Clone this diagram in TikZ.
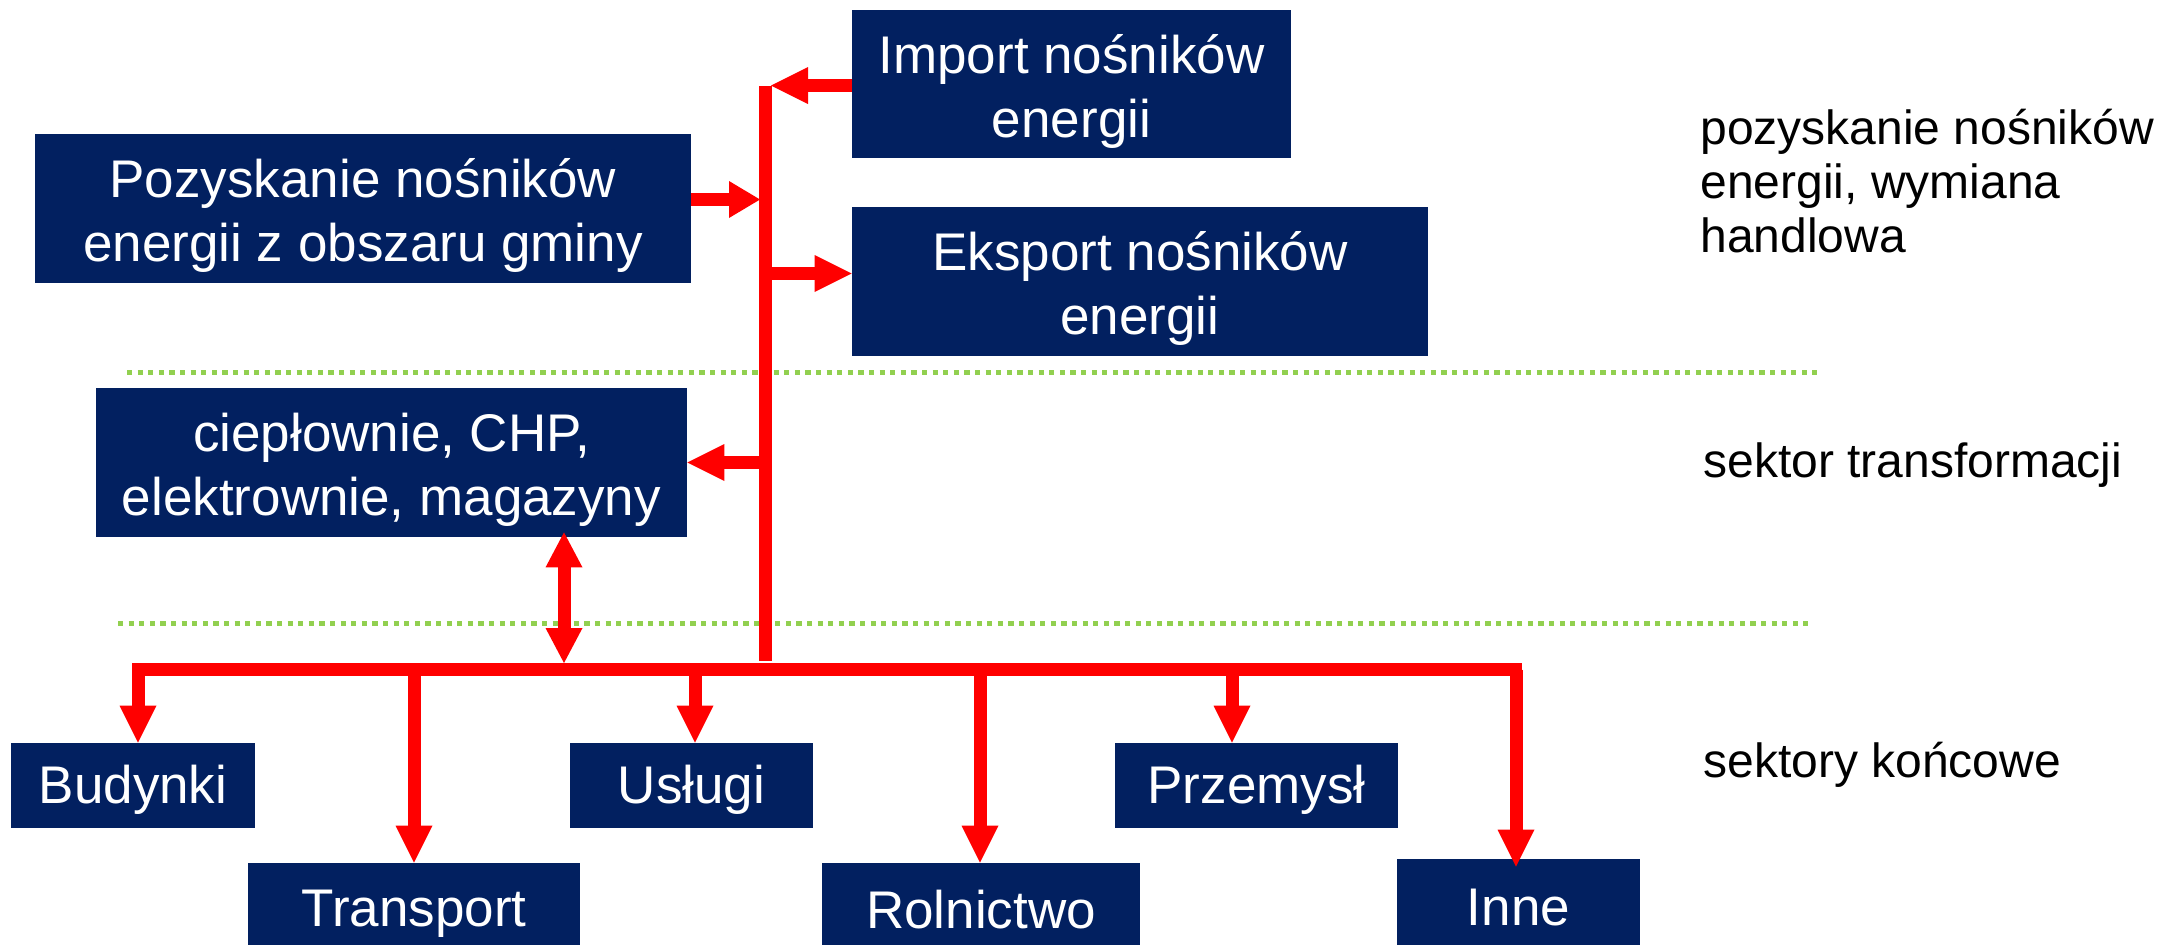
\documentclass[tikz,border=0pt]{standalone}
\usepackage{fontspec}
\setmainfont{Liberation Sans}
\usetikzlibrary{arrows.meta}
\definecolor{navy}{RGB}{2,32,96}
\definecolor{myred}{RGB}{255,0,0}
\definecolor{sepgreen}{RGB}{146,208,80}
\tikzset{
  box/.style={fill=navy, text=white, inner sep=0pt, align=center,
    font=\fontsize{26.5pt}{32pt}\selectfont},
  boxtxt/.style={text=white, inner sep=0pt, align=center,
    font=\fontsize{26.5pt}{32pt}\selectfont},
  lab/.style={text=black, inner sep=0pt, align=left,
    font=\fontsize{24pt}{27pt}\selectfont},
  redline/.style={draw=myred, line width=6.5pt, line cap=butt},
  arr/.style={redline, -{Triangle[length=18.5pt,width=18.5pt,line width=0pt]}},
  arrshort/.style={redline, -{Triangle[length=15.5pt,width=18.5pt,line width=0pt]}},
  dblarr/.style={redline, {Triangle[length=17.5pt,width=18.5pt,line width=0pt]}-{Triangle[length=17.5pt,width=18.5pt,line width=0pt]}},
  sepline/.style={draw=sepgreen, line width=2.5pt, dash pattern=on 2.6pt off 2.7pt},
}
\begin{document}
\begin{tikzpicture}[x=0.5pt,y=-0.5pt]
\useasboundingbox (0,0) rectangle (2171,944);
% separators
\draw[sepline] (127,372.5) -- (1817,372.5);
\draw[sepline] (118,623.5) -- (1808,623.5);
% boxes (two-line)
\node[box, minimum width=219.5pt, minimum height=74pt,
  label={[boxtxt,yshift=-3.5pt]center:Import nośników\\energii}] (imp) at (1071.5,84) {};
\node[box, minimum width=328pt, minimum height=74.5pt,
  label={[boxtxt,yshift=-3.5pt]center:Pozyskanie nośników\\energii z obszaru gminy}] (poz) at (363,208.5) {};
\node[box, minimum width=288pt, minimum height=74.5pt,
  label={[boxtxt,yshift=-3.5pt]center:Eksport nośników\\energii}] (eks) at (1140,281.5) {};
\node[box, minimum width=295.5pt, minimum height=74.5pt,
  label={[boxtxt,yshift=-3.5pt]center:ciepłownie, CHP,\\elektrownie, magazyny}] (cie) at (391.5,462.5) {};
% boxes (one-line)
\node[box, minimum width=122pt, minimum height=42.5pt, text height=17.5pt, text depth=0pt] (bud) at (133,785.5) {Budynki};
\node[box, minimum width=121.5pt, minimum height=42.5pt, text height=17.5pt, text depth=0pt] (usl) at (691.5,785.5) {Usługi};
\node[box, minimum width=141.5pt, minimum height=42.5pt, text height=17.5pt, text depth=0pt] (prz) at (1256.5,785.5) {Przemysł};
\node[box, minimum width=166pt, minimum height=50pt, text height=13.5pt, text depth=0pt] (tra) at (414,913) {Transport};
\node[box, minimum width=159pt, minimum height=50pt, text height=15pt, text depth=0pt] (rol) at (981,913) {Rolnictwo};
\node[box, minimum width=121.5pt, minimum height=52pt, text height=14pt, text depth=0pt] (inn) at (1518.5,911) {Inne};
% right labels
\node[lab, anchor=base west] (l1) at (1700,252) {pozyskanie nośników\\energii, wymiana\\handlowa};
\node[lab, anchor=base west] (l2) at (1703,477) {sektor transformacji};
\node[lab, anchor=base west] (l3) at (1703,777) {sektory końcowe};
% trunk and bus
\coordinate (ttop) at (765.5,86);
\coordinate (tbot) at (765.5,661);
\coordinate (busL) at (132,669.5);
\coordinate (busR) at (1522,669.5);
\coordinate (bj) at (564,669.5);
\coordinate (d1) at (138,669.5);
\coordinate (d2) at (414,669.5);
\coordinate (d3) at (695,669.5);
\coordinate (d4) at (980,669.5);
\coordinate (d5) at (1232,669.5);
\coordinate (d6) at (1516,669.5);
\draw[redline] (ttop) -- (tbot);
\draw[redline] (busL) -- (busR);
% arrows at the trunk
\draw[arr, shorten >=2.75pt] ([yshift=-0.75pt]imp.west) -- ([yshift=-0.75pt]imp.west -| ttop);
\draw[arrshort, shorten >=2.75pt] ([yshift=4.5pt]poz.east) -- ([yshift=4.5pt]poz.east -| ttop);
\draw[arr] ([yshift=4pt]eks.west -| ttop) -- ([yshift=4pt]eks.west);
\draw[arr] (cie.east -| ttop) -- (cie.east);
\draw[dblarr, shorten <=3.25pt, shorten >=-2.5pt] (bj) -- (bj |- cie.south);
% drops
\draw[arr] (d1) -- (d1 |- bud.north);
\draw[arr] (d2) -- (d2 |- tra.north);
\draw[arr] (d3) -- (d3 |- usl.north);
\draw[arr] (d4) -- (d4 |- rol.north);
\draw[arr] (d5) -- (d5 |- prz.north);
\draw[arr, shorten >=-4pt] (d6) -- (d6 |- inn.north);
\end{tikzpicture}
\end{document}
